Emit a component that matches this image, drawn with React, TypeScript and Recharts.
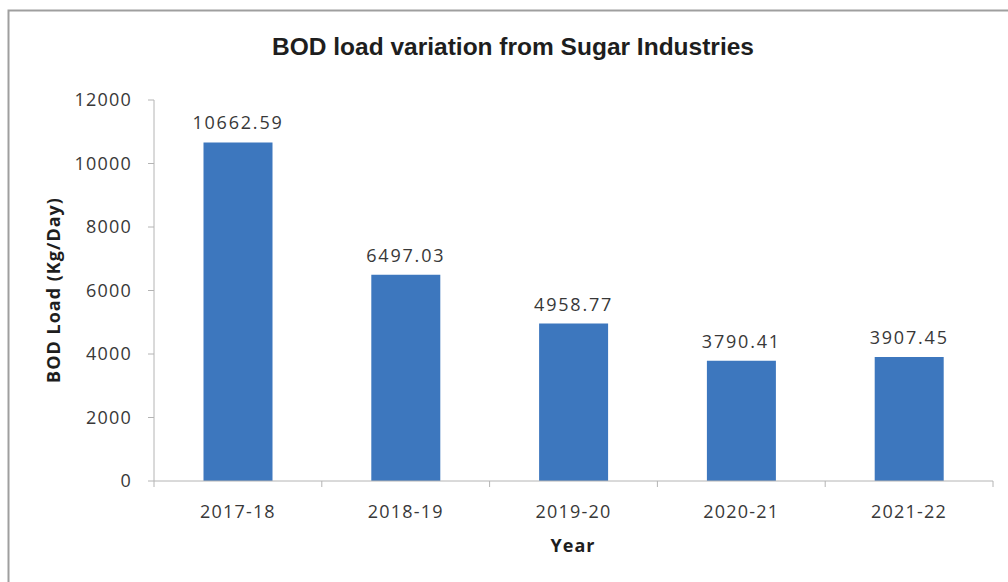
import React from 'react';
import { BarChart, Bar, XAxis, YAxis, LabelList } from 'recharts';

const years = ['2017-18', '2018-19', '2019-20', '2020-21', '2021-22'];
const bodLoad = [10662.59, 6497.03, 4958.77, 3790.41, 3907.45];
const yTicks = [0, 2000, 4000, 6000, 8000, 10000, 12000];

const data = years.map((year, i) => ({ year, load: bodLoad[i] }));

const W = 1008;
const H = 582;
const TEXT = '#383838';
const AXIS = '#b4b4b4';
const BAR = '#3d77be';
const FONT = '"Open Sans", "DejaVu Sans", sans-serif';

// Category tick: label under the centre, tick marks at the band edges
const YearTick = (props: any) => {
  const { x, y, payload, width } = props;
  const half = payload && payload.offset ? payload.offset : width / years.length / 2;
  const last = payload.index === years.length - 1;
  return (
    <g>
      <line x1={x - half} y1={y} x2={x - half} y2={y + 6} stroke={AXIS} strokeWidth={1} />
      {last && <line x1={x + half} y1={y} x2={x + half} y2={y + 6} stroke={AXIS} strokeWidth={1} />}
      <text
        x={x}
        y={y + 37}
        textAnchor="middle"
        fill={TEXT}
        fontFamily={FONT}
        fontSize={18}
        letterSpacing={1.2}
      >
        {payload.value}
      </text>
    </g>
  );
};

const formatLoad = (v: any) => Number(v).toFixed(2);

export default function App() {
  return (
    <div style={{ position: 'absolute', left: 0, top: 0, width: W, height: H, background: '#fff' }}>
      <BarChart
        width={W}
        height={H}
        data={data}
        margin={{ top: 100, right: 15, bottom: 71, left: 94 }}
        barCategoryGap="29.5%"
      >
        <XAxis
          dataKey="year"
          height={30}
          axisLine={{ stroke: AXIS, strokeWidth: 1 }}
          tickLine={false}
          tickSize={0}
          tickMargin={0}
          interval={0}
          tick={<YearTick />}
        />
        <YAxis
          width={60}
          domain={[0, 12000]}
          ticks={yTicks}
          interval={0}
          axisLine={{ stroke: AXIS, strokeWidth: 1 }}
          tickLine={{ stroke: AXIS, strokeWidth: 1 }}
          tickSize={6}
          tickMargin={16}
          tick={{ fill: TEXT, fontFamily: FONT, fontSize: 18, letterSpacing: 1.2 }}
        />
        <Bar dataKey="load" fill={BAR} isAnimationActive={false}>
          <LabelList
            dataKey="load"
            position="top"
            offset={13}
            formatter={formatLoad}
            fill={TEXT}
            fontFamily={FONT}
            fontSize={18}
            letterSpacing={1.8}
          />
        </Bar>
      </BarChart>
      <svg
        width={W}
        height={H}
        style={{ position: 'absolute', left: 0, top: 0, pointerEvents: 'none' }}
      >
        <path d={`M8.5 ${H} L8.5 10.5 L${W} 10.5`} fill="none" stroke="#9f9f9f" strokeWidth={2} />
        <text
          x={513}
          y={55}
          textAnchor="middle"
          fontFamily='"Liberation Sans", Arial, sans-serif'
          fontWeight="bold"
          fontSize={24.5}
          fill="#1e1e1e"
        >
          BOD load variation from Sugar Industries
        </text>
        <text
          x={0}
          y={0}
          transform="translate(60 290) rotate(-90)"
          textAnchor="middle"
          fontFamily={FONT}
          fontWeight="bold"
          fontSize={18}
          letterSpacing={1}
          fill="#1e1e1e"
        >
          BOD Load (Kg/Day)
        </text>
        <text
          x={573}
          y={552}
          textAnchor="middle"
          fontFamily={FONT}
          fontWeight="bold"
          fontSize={18}
          letterSpacing={1}
          fill="#1e1e1e"
        >
          Year
        </text>
      </svg>
    </div>
  );
}
